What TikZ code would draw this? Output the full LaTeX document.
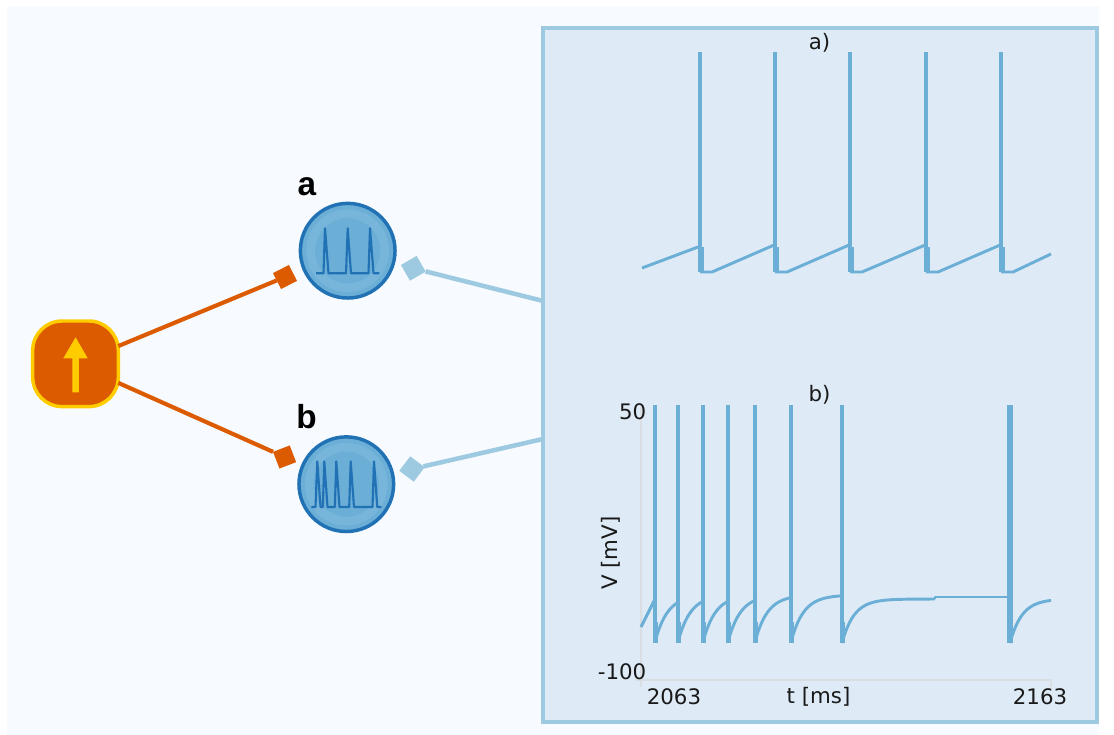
\documentclass[tikz,border=0pt]{standalone}
\usepackage{fontspec}
\setmainfont{DejaVu Sans}
\newfontfamily\labelfont{Liberation Sans}
\definecolor{bgblue}{HTML}{F7FBFF}
\definecolor{panelfill}{HTML}{DEEBF7}
\definecolor{panelline}{HTML}{9ECAE1}
\definecolor{tracecol}{HTML}{6BAED6}
\definecolor{ringcol}{HTML}{78B5DB}
\definecolor{deepblue}{HTML}{2171B5}
\definecolor{orangec}{HTML}{DD5B00}
\definecolor{goldc}{HTML}{FFCC00}
\definecolor{axiscol}{HTML}{D9DEE2}
\tikzset{
  neuron/.style={circle,draw=deepblue,fill=tracecol,line width=2.6pt,minimum size=71pt,inner sep=0pt,outer sep=0pt},
  stimbox/.style={rectangle,rounded corners=22pt,draw=goldc,fill=orangec,line width=2.6pt,minimum size=64.2pt,inner sep=0pt,outer sep=0pt},
  orangetip/.style={rectangle,fill=orangec,minimum size=13.4pt,inner sep=0pt,outer sep=0pt},
  bluetip/.style={rectangle,fill=panelline,minimum size=13.6pt,inner sep=0pt,outer sep=0pt},
  orangeline/.style={draw=orangec,line width=3.1pt},
  blueline/.style={draw=panelline,line width=3.4pt},
  panelbox/.style={rectangle,draw=panelline,fill=panelfill,line width=2.4pt,minimum width=415.5pt,minimum height=520.5pt,inner sep=0pt,outer sep=0pt},
  trace/.style={draw=tracecol,line width=2.2pt,line join=round},
  spike/.style={draw=tracecol,line width=2.8pt},
  band/.style={draw=tracecol,line width=3.4pt},
  axisline/.style={draw=axiscol,line width=1.4pt},
  mini/.style={draw=deepblue,line width=1.6pt,line join=round},
  charttext/.style={font=\fontsize{16}{18}\selectfont,text=black!90,inner sep=0pt},
  namelabel/.style={font=\labelfont\bfseries\fontsize{25}{28}\selectfont,text=black,inner sep=0pt}
}
\begin{document}
\begin{tikzpicture}[x=0.75pt,y=-0.75pt]
\useasboundingbox (0,0) rectangle (1114,735);
\fill[white] (0,0) rectangle (1114,735);
\fill[bgblue] (7,6) rectangle (1099,735);
% nodes
\node[panelbox] (panel) at (820,375) {};
\node[stimbox] (stim) at (75.5,363.8) {};
\node[neuron] (a) at (347.7,250.7) {};
\node[neuron] (b) at (346.3,484.2) {};
\node[orangetip,rotate=27] (ta) at (285,277) {};
\node[orangetip,rotate=21] (tb) at (284.6,457) {};
\node[bluetip,rotate=30] (ua) at (413.3,268.3) {};
\node[bluetip,rotate=-37] (ub) at (412,469) {};
\coordinate (pa) at (542,300.7);
\coordinate (pb) at (542,439.2);
% connectors
\draw[orangeline] (stim) -- (ta);
\draw[orangeline] (stim) -- (tb);
\draw[blueline] (ua) -- (pa);
\draw[blueline] (ub) -- (pb);
% stimulus arrow
\fill[goldc] (75.6,337.3) -- (87.7,358.3) -- (78.9,358.3) -- (78.9,392.3) -- (72.3,392.3) -- (72.3,358.3) -- (63.3,358.3) -- cycle;
% neuron rings
\fill[ringcol,even odd rule] (a) circle[radius=31pt] (a) circle[radius=24.5pt];
\fill[ringcol,even odd rule] (b) circle[radius=31pt] (b) circle[radius=24.5pt];
% neuron a mini trace
\draw[mini] (316,273.3) -- (323.5,273.3) -- (325,228.3) -- (328.5,273.3) -- (346,273.3) -- (347.7,228.3) -- (351,273.3) -- (368.5,273.3) -- (370,228.3) -- (373.5,273.3) -- (379.3,273.3);
% neuron b mini trace
\draw[mini] (311.3,507) -- (315.5,507) -- (317.3,461.5) -- (320.5,507) -- (322.8,507) -- (324.3,461.5) -- (327.5,507) -- (334.8,507) -- (336.3,461.5) -- (339.5,507) -- (349.2,507) -- (350.7,461.5) -- (354,507) -- (372.5,507) -- (374,461.5) -- (377.3,507) -- (381.3,507);
% labels
\node[namelabel] (la) at (307,186.5) {a};
\node[namelabel] (lb) at (306.5,417) {b};
% trace a
\draw[trace] (642,268) -- (698,247) -- (700,247);
\foreach \s/\e/\p in {700/775/245.5,775/850/245.5,850/926/245.5,926/1001/245.5}{
  \draw[spike] (\s,52) -- (\s,272);
  \draw[trace] (\s,272) -- ({\s+12},272) -- ({\e-2},\p) -- (\e,\p);
  \draw[band] ({\s+1.5},247) -- ({\s+1.5},272);
}
\draw[spike] (1001,52) -- (1001,272);
\draw[band] (1002.5,247) -- (1002.5,272);
\draw[trace] (1001,272) -- (1013,272) -- (1051,254);
\node[charttext] (ta1) at (819.5,43) {a)};
% axes of b
\draw[axisline] (641,405) -- (641,687);
\draw[axisline] (635,680) -- (1051,680) -- (1051,687);
% trace b
\draw[trace] (641,627) -- (654,601) -- (655,601);
\foreach \s/\e in {655/678,678/703,703/728,728/755,755/791,791/842}{
  \draw[spike] (\s,405) -- (\s,643);
  \draw[trace] plot[domain=\s:\e,samples=24] (\x,{595+47*exp(-(\x-\s)/12.5)});
  \draw[band] ({\s+1},622) -- ({\s+1},643);
}
\draw[spike] (842,405) -- (842,643);
\draw[band] (843,622) -- (843,643);
\draw[trace] plot[domain=842:935,samples=40] (\x,{599+44*exp(-(\x-842)/12)});
\draw[trace] (935,599) -- (935,597) -- (1010,597);
\draw[draw=tracecol,line width=3.8pt] (1010,405) -- (1010,643);
\draw[trace] plot[domain=1010:1051,samples=24] (\x,{599+44*exp(-(\x-1010)/12)});
% texts of chart b
\node[charttext] (tb1) at (819.5,395) {b)};
\node[charttext,anchor=east] (ymax) at (646.5,412) {50};
\node[charttext,anchor=east] (ymin) at (646.5,672) {-100};
\node[charttext,rotate=90] (ylab) at (611,553) {V [mV]};
\node[charttext] (xmin) at (674,697) {2063};
\node[charttext] (xlab) at (818.5,697) {t [ms]};
\node[charttext] (xmax) at (1040,697) {2163};
\end{tikzpicture}
\end{document}
